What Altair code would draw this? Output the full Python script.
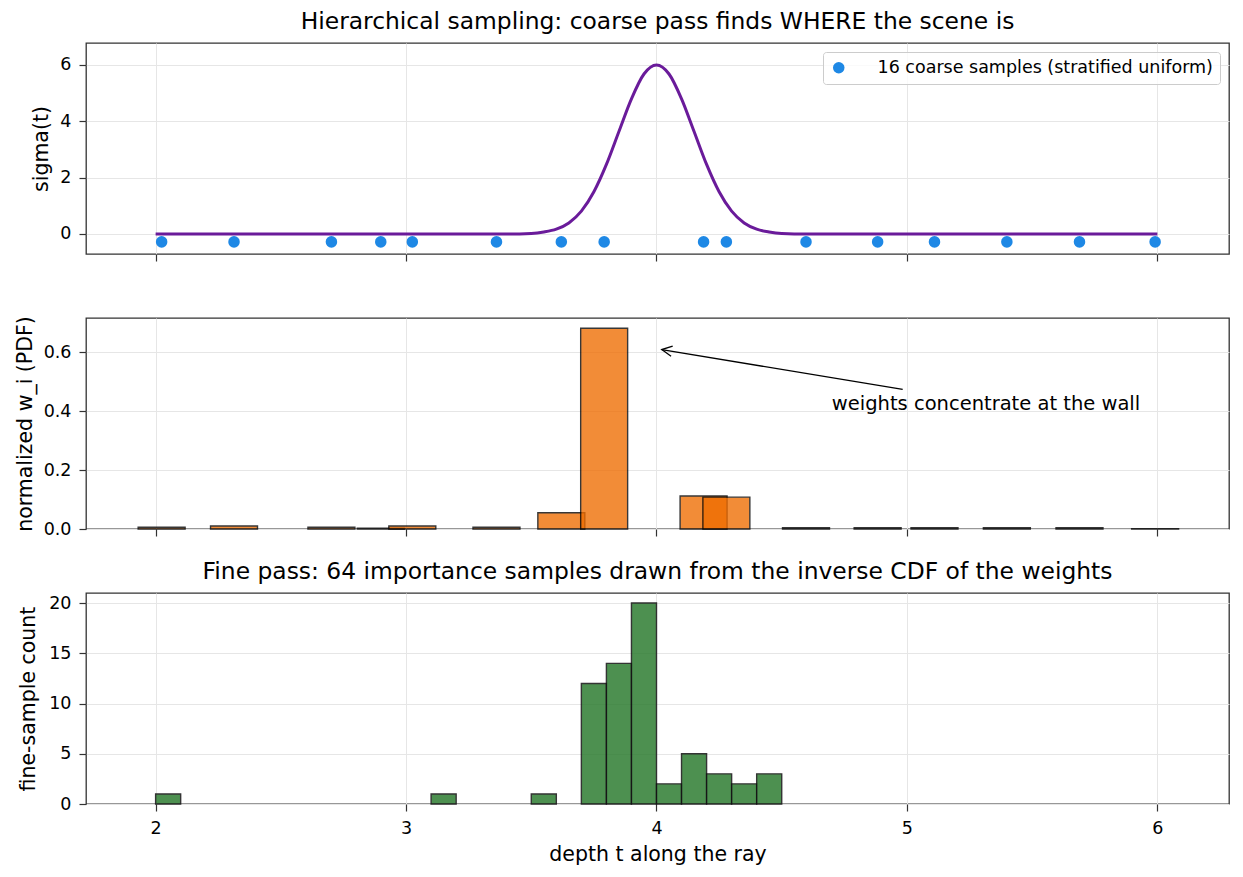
import altair as alt
import pandas as pd

FONT = "DejaVu Sans"

# 16 stratified coarse samples along the ray and their normalized weights
coarse_t = [2.024, 2.313, 2.702, 2.899, 3.025, 3.361, 3.620, 3.791,
            4.188, 4.279, 4.597, 4.883, 5.110, 5.399, 5.689, 5.991]
coarse_w = [0.006, 0.010, 0.006, 0.003, 0.010, 0.006, 0.055, 0.681,
            0.112, 0.108, 0.004, 0.004, 0.004, 0.004, 0.004, 0.001]
sample_row = -0.28          # height at which the coarse samples are marked
weight_bar_width = 0.1875

# density profile sigma(t) of the wall
sigma_t = [2.0, 3.4, 3.5, 3.55, 3.6, 3.65, 3.7, 3.75, 3.8, 3.85, 3.9, 3.95, 4.0,
           4.05, 4.1, 4.15, 4.2, 4.25, 4.3, 4.35, 4.4, 4.45, 4.5, 4.6, 6.0]
sigma_v = [0.0, 0.0, 0.02, 0.07, 0.17, 0.39, 0.81, 1.50, 2.47, 3.64, 4.80, 5.68, 6.00,
           5.68, 4.80, 3.64, 2.47, 1.50, 0.81, 0.39, 0.17, 0.07, 0.02, 0.0, 0.0]

# histogram of the 64 fine samples (non-empty bins of width 0.1)
fine_bin_start = [2.0, 3.1, 3.5, 3.7, 3.8, 3.9, 4.0, 4.1, 4.2, 4.3, 4.4]
fine_count = [1, 1, 1, 12, 14, 20, 2, 5, 3, 2, 3]
fine_bin_width = 0.1

x_ticks = [2, 3, 4, 5, 6]
x_domain = [1.722, 6.286]

legend_label = "16 coarse samples (stratified uniform)"
note_text = "weights concentrate at the wall"
note_pos = (4.70, 0.405)
arrow_tail = (4.983, 0.4735)
arrow_head = (4.021, 0.609)

W, H = 1143, 211


def x_enc(field="t", labels=False, title=None):
    return alt.X(f"{field}:Q",
                 scale=alt.Scale(domain=x_domain, nice=False, zero=False),
                 axis=alt.Axis(values=x_ticks, labels=labels, title=title,
                               format="d", titlePadding=8))


# ---- top: sigma(t) with the coarse samples ----
sigma_df = pd.DataFrame({"t": sigma_t, "v": sigma_v})
coarse_df = pd.DataFrame({"t": coarse_t, "v": [sample_row] * len(coarse_t),
                          "series": [legend_label] * len(coarse_t)})

y_top = alt.Y("v:Q", scale=alt.Scale(domain=[-0.71, 6.78], nice=False, zero=False),
              axis=alt.Axis(values=[0, 2, 4, 6], title="sigma(t)", titlePadding=8))

line = alt.Chart(sigma_df).mark_line(color="#6a1b9a", strokeWidth=3,
                                     interpolate="monotone").encode(x=x_enc(), y=y_top)
dots = alt.Chart(coarse_df).mark_circle(size=133, opacity=1).encode(
    x=x_enc(), y=y_top,
    color=alt.Color("series:N", scale=alt.Scale(domain=[legend_label], range=["#1e88e5"]),
                    legend=alt.Legend(title=None, orient="top-right", offset=9,
                                      padding=7, strokeColor="#cccccc",
                                      fillColor="rgba(255,255,255,0.8)",
                                      cornerRadius=3, symbolType="circle",
                                      symbolSize=133, symbolStrokeWidth=0,
                                      labelFont=FONT, labelFontSize=17.5,
                                      labelColor="black", labelOffset=30,
                                      labelLimit=0)))

top = alt.layer(line, dots).properties(
    width=W, height=H,
    title=alt.TitleParams("Hierarchical sampling: coarse pass finds WHERE the scene is",
                          offset=9))

# ---- middle: normalized weights ----
w_df = pd.DataFrame({"t": coarse_t, "w": coarse_w})
y_mid = alt.Y("w:Q", scale=alt.Scale(domain=[0, 0.716], nice=False),
              axis=alt.Axis(values=[0, 0.2, 0.4, 0.6], format=".1f",
                            title="normalized w_i (PDF)", titlePadding=8))

wbars = alt.Chart(w_df).transform_calculate(
    x0=f"datum.t - {weight_bar_width / 2}", x1=f"datum.t + {weight_bar_width / 2}"
).mark_rect(color="#ef6c00", opacity=0.78, stroke="black", strokeWidth=1.4).encode(
    x=x_enc("x0"), x2="x1:Q", y=y_mid, y2=alt.datum(0))

note_df = pd.DataFrame({"t": [note_pos[0]], "w": [note_pos[1]], "label": [note_text]})
arrow_df = pd.DataFrame({"t": [arrow_tail[0]], "w": [arrow_tail[1]],
                         "t2": [arrow_head[0]], "w2": [arrow_head[1]]})
head_df = pd.DataFrame({"t": [arrow_head[0]], "w": [arrow_head[1]]})

note = alt.Chart(note_df).mark_text(align="left", baseline="alphabetic", font=FONT,
                                    fontSize=19.5, color="black").encode(
    x=x_enc(), y=y_mid, text="label:N")
shaft = alt.Chart(arrow_df).mark_rule(color="black", strokeWidth=1.3).encode(
    x=x_enc(), y=y_mid, x2="t2:Q", y2="w2:Q")
head = alt.Chart(head_df).mark_point(shape="M -1 -0.5 L 0 0 L -1 0.5", size=420,
                                     angle=189, filled=False, color="black",
                                     strokeWidth=1.3, opacity=1).encode(x=x_enc(), y=y_mid)

mid = alt.layer(wbars, shaft, head, note).properties(width=W, height=H)

# ---- bottom: fine-sample histogram ----
fine_df = pd.DataFrame({"t": fine_bin_start, "n": fine_count})
y_bot = alt.Y("n:Q", scale=alt.Scale(domain=[0, 21], nice=False),
              axis=alt.Axis(values=[0, 5, 10, 15, 20], title="fine-sample count",
                            titlePadding=10))
fbars = alt.Chart(fine_df).transform_calculate(
    t1=f"datum.t + {fine_bin_width}"
).mark_rect(color="#2e7d32", opacity=0.85, stroke="#111111", strokeWidth=1.4).encode(
    x=x_enc("t", labels=True, title="depth t along the ray"), x2="t1:Q",
    y=y_bot, y2=alt.datum(0))

bot = fbars.properties(
    width=W, height=H,
    title=alt.TitleParams("Fine pass: 64 importance samples drawn from the inverse CDF of the weights",
                          offset=9))

chart = alt.vconcat(top, mid, bot, spacing=64, bounds="flush").resolve_scale(
    color="independent").resolve_legend(color="independent").properties(
    padding={"left": 14, "top": 8, "right": 5, "bottom": 5}
).configure_view(stroke="#333333", strokeWidth=1.3).configure_axis(
    domain=False, grid=True, gridColor="#e6e6e6", gridWidth=1,
    tickColor="#333333", tickSize=7, tickWidth=1.2,
    labelFont=FONT, labelFontSize=17.5, labelColor="black", labelPadding=8,
    titleFont=FONT, titleFontSize=20.5, titleFontWeight="normal", titleColor="black"
).configure_title(font=FONT, fontSize=23.4, fontWeight="normal", color="black",
                  anchor="middle")

chart.save("out.html", embed_options={"renderer": "svg", "actions": False})
